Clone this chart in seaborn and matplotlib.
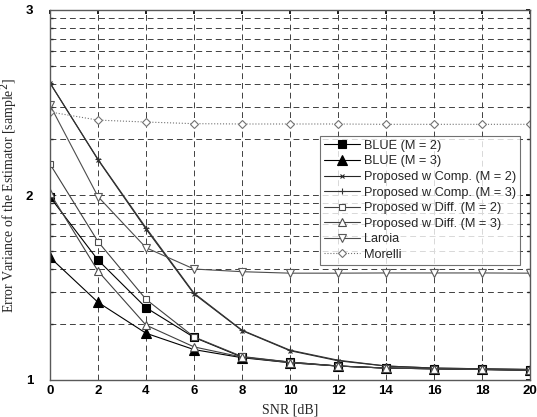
import numpy as np
import pandas as pd
import seaborn as sns
import matplotlib
matplotlib.use("Agg")
import matplotlib.pyplot as plt
from matplotlib.ticker import FixedLocator, FixedFormatter, LogLocator, NullFormatter

snr = [0, 2, 4, 6, 8, 10, 12, 14, 16, 18, 20]

blue_m2 = [97.5, 44.5, 24.6, 17.0, 13.3, 12.5, 11.9, 11.6, 11.5, 11.4, 11.3]
blue_m3 = [46.0, 26.3, 17.9, 14.6, 13.2, 12.4, 11.9, 11.6, 11.5, 11.4, 11.3]
comp_m2 = [403, 155, 65.5, 29.2, 18.5, 14.4, 12.7, 11.9, 11.6, 11.5, 11.4]
comp_m3 = [403, 156, 66.5, 29.5, 18.6, 14.5, 12.8, 11.9, 11.6, 11.5, 11.4]
diff_m2 = [147, 56, 27.3, 17.1, 13.4, 12.5, 11.9, 11.6, 11.5, 11.4, 11.3]
diff_m3 = [102.5, 38.8, 19.8, 15.1, 13.3, 12.4, 11.9, 11.6, 11.5, 11.4, 11.3]
laroia = [306, 98, 51.9, 39.8, 38.5, 37.8, 37.8, 37.9, 37.9, 37.9, 37.8]
morelli = [281, 254, 248, 243, 242, 242, 242, 241, 241, 241, 241]

labels = ["BLUE (M = 2)", "BLUE (M = 3)", "Proposed w Comp. (M = 2)",
          "Proposed w Comp. (M = 3)", "Proposed w Diff. (M = 2)",
          "Proposed w Diff. (M = 3)", "Laroia", "Morelli"]

ytick_vals = [10, 100, 1000]
ytick_labels = ["1", "2", "3"]
xtick_vals = list(range(0, 21, 2))

sns.set_theme(style="white")
plt.rcParams['font.family'] = ['Liberation Sans', 'DejaVu Sans']

fig = plt.figure(figsize=(5.37, 4.17), dpi=100)
ax = fig.add_axes([50/537, 1-380/417, 480/537, 370/417])

series = [blue_m2, blue_m3, comp_m2, comp_m3, diff_m2, diff_m3, laroia, morelli]
styles = [
    dict(color="black", linestyle="-", marker="s", markersize=6, markerfacecolor="black", markeredgecolor="black"),
    dict(color="black", linestyle="-", marker="^", markersize=6.5, markerfacecolor="black", markeredgecolor="black"),
    dict(color="0.15", linestyle="-", marker="x", markersize=3.5, markerfacecolor="none", markeredgecolor="0.15"),
    dict(color="0.2", linestyle="-", marker="+", markersize=5, markerfacecolor="none", markeredgecolor="0.2"),
    dict(color="0.25", linestyle="-", marker="s", markersize=5, markerfacecolor="white", markeredgecolor="0.3"),
    dict(color="0.25", linestyle="-", marker="^", markersize=5.5, markerfacecolor="white", markeredgecolor="0.3"),
    dict(color="0.3", linestyle="-", marker="v", markersize=6, markerfacecolor="white", markeredgecolor="0.35"),
    dict(color="0.45", linestyle=":", marker="D", markersize=4.5, markerfacecolor="white", markeredgecolor="0.45"),
]

for vals, lab, st in zip(series, labels, styles):
    sns.lineplot(x=snr, y=vals, ax=ax, label=lab, linewidth=0.8,
                 markeredgewidth=0.8, **st)

ax.set_yscale("log")
ax.set_xlim(0, 20)
ax.set_ylim(10, 1000)
ax.set_xticks(xtick_vals)
ax.xaxis.set_major_formatter(FixedFormatter([str(v) for v in xtick_vals]))
ax.yaxis.set_major_locator(FixedLocator(ytick_vals))
ax.yaxis.set_major_formatter(FixedFormatter(ytick_labels))
ax.yaxis.set_minor_locator(LogLocator(base=10, subs=np.arange(2, 10)))
ax.yaxis.set_minor_formatter(NullFormatter())

ax.grid(True, which="both", axis="both", color="0.25", linestyle=(0, (6, 4)), linewidth=0.7)
ax.set_axisbelow(True)

for sp in ax.spines.values():
    sp.set_color("0.35")
    sp.set_linewidth(1.0)

ax.tick_params(axis="both", which="major", labelsize=9.5, length=3, direction="in",
               right=True, top=True, colors="black")
ax.tick_params(axis="y", which="minor", length=2, direction="in", right=True, left=True)
for t in ax.get_xticklabels() + ax.get_yticklabels():
    t.set_fontweight("bold")
ax.tick_params(axis="y", pad=12)

ax.set_xlabel("SNR [dB]", family=["Liberation Serif"], fontsize=10, labelpad=5)
ax.set_ylabel("Error Variance of the Estimator [sample$^2$]", family=["Liberation Serif"],
              fontsize=10, labelpad=4)

leg = ax.legend(loc="upper left", bbox_to_anchor=(270/480, (380-136)/370), fontsize=9.2,
                frameon=True, fancybox=False, edgecolor="0.3", borderpad=0.3,
                labelspacing=0.28, handlelength=2.8, handletextpad=0.35, borderaxespad=0)
leg.get_frame().set_linewidth(0.8)

fig.savefig("out.png", dpi=100)
